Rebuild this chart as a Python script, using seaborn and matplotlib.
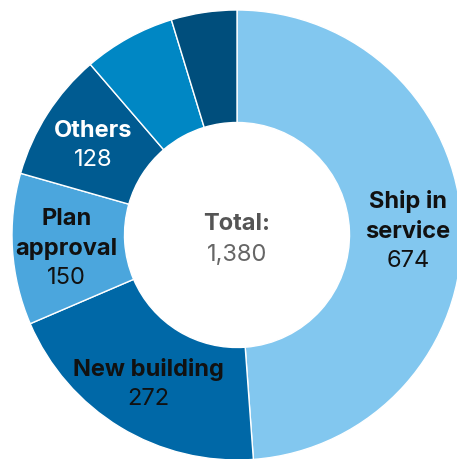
import numpy as np
import matplotlib
matplotlib.use("Agg")
import matplotlib.pyplot as plt
import seaborn as sns

# Cases by category (clockwise from 12 o'clock)
categories = ["Ship in\nservice", "New building", "Plan\napproval", "Others", "", ""]
counts = [674, 272, 150, 128, 91, 65]
colors = ["#82C7EF", "#0068A7", "#4BA6DD", "#005B91", "#0087C4", "#004E7C"]
text_colors = ["#111111", "#111111", "#111111", "#FFFFFF", "#111111", "#111111"]

sns.set_theme(style="white")
plt.rcParams["font.family"] = ["Inter", "DejaVu Sans"]

W, H = 457, 459
fig = plt.figure(figsize=(W / 100, H / 100), dpi=100)
ax = fig.add_axes([0, 0, 1, 1])

# donut centre and radius in pixels
cx, cy, R = 237, 235, 225
wedges, _ = ax.pie(
    counts,
    colors=colors,
    startangle=90,
    counterclock=False,
    radius=1.0,
    wedgeprops=dict(width=0.5, edgecolor="white", linewidth=1.0),
)
ax.set_xlim(-cx / R, (W - cx) / R)
ax.set_ylim(-(H - cy) / R, cy / R)
ax.set_aspect("equal")
ax.axis("off")

fs = 17
line_h = 21.3  # points between stacked lines
shift = -2.0   # nudge label blocks slightly downward
for w, name, val, tc in zip(wedges, categories, counts, text_colors):
    if not name:
        continue
    mid = np.deg2rad((w.theta1 + w.theta2) / 2)
    x, y = 0.76 * np.cos(mid), 0.76 * np.sin(mid)
    lines = name.split("\n")
    n = len(lines) + 1
    for i, txt in enumerate(lines + [f"{val:,}"]):
        off = ((n - 1) / 2 - i) * line_h + shift
        ax.annotate(
            txt, (x, y), xytext=(0, off), textcoords="offset points",
            ha="center", va="center", fontsize=fs,
            fontweight="bold" if i < n - 1 else "normal",
            color=tc,
        )

total = sum(counts)
ax.annotate("Total:", (0, 0), xytext=(0, 8.0), textcoords="offset points",
            ha="center", va="center", fontsize=fs, fontweight="bold", color="#555555")
ax.annotate(f"{total:,}", (0, 0), xytext=(0, -14.5), textcoords="offset points",
            ha="center", va="center", fontsize=fs, color="#666666")

fig.savefig("out.png", dpi=100, facecolor="white")
